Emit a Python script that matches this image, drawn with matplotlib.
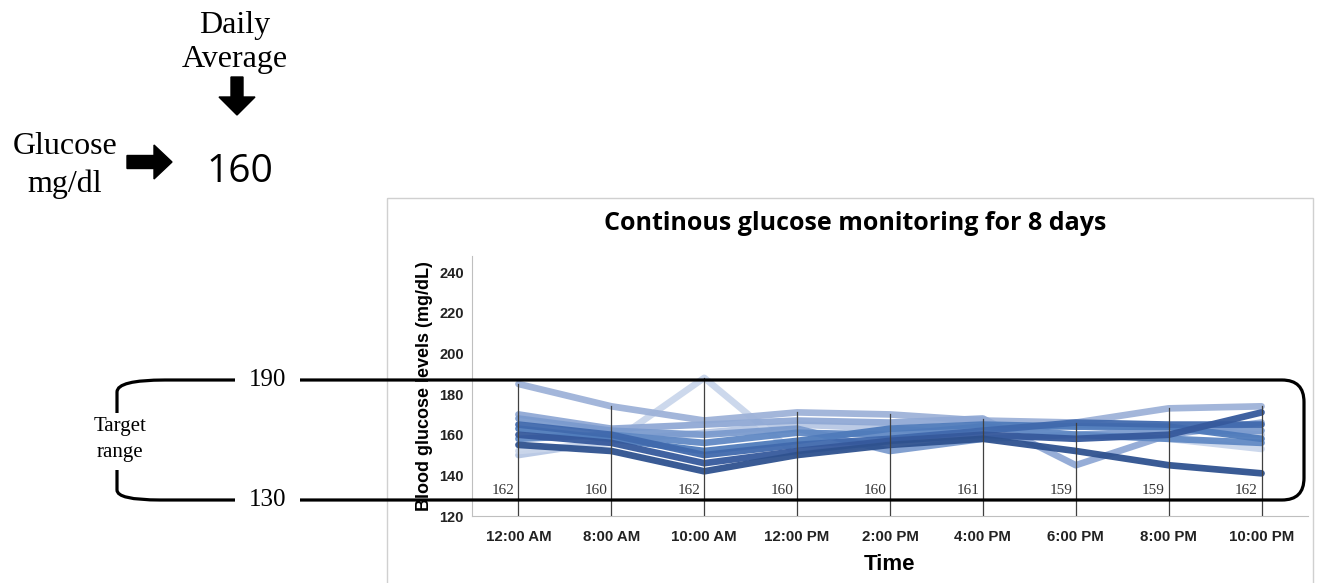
import matplotlib
matplotlib.use("Agg")
import matplotlib.pyplot as plt
from matplotlib.path import Path
from matplotlib.patches import PathPatch, FancyArrow, Rectangle

# categories and values (mg/dL)
times = ["12:00 AM", "8:00 AM", "10:00 AM", "12:00 PM", "2:00 PM",
         "4:00 PM", "6:00 PM", "8:00 PM", "10:00 PM"]
day1 = [155, 152, 142, 150, 155, 158, 152, 145, 141]
day2 = [160, 156, 146, 152, 157, 160, 158, 160, 171]
day3 = [165, 160, 150, 155, 158, 162, 166, 165, 165]
day4 = [163, 158, 152, 157, 163, 165, 164, 164, 158]
day5 = [158, 160, 156, 161, 160, 164, 160, 158, 156]
day6 = [168, 162, 160, 163, 152, 158, 160, 162, 162]
day7 = [170, 163, 165, 167, 166, 168, 145, 160, 166]
day8 = [185, 174, 167, 171, 170, 167, 166, 173, 174]
day9 = [150, 157, 161, 165, 163, 160, 165, 163, 160]
day10 = [152, 156, 188, 150, 157, 160, 160, 158, 153]
days = [day1, day2, day3, day4, day5, day6, day7, day8, day9, day10]
colors = ["#2F528F", "#36599C", "#4069AD", "#4F7BBB", "#6189C4",
          "#7B9BCE", "#90A9D5", "#9EB2D8", "#B8C8E4", "#CAD6EB"]
averages = ["162", "160", "162", "160", "160", "161", "159", "159", "162"]
yticks = [120, 140, 160, 180, 200, 220, 240]

W, H = 1323, 583
fig = plt.figure(figsize=(W / 100, H / 100), dpi=100)

# main chart axes
ax = fig.add_axes([472 / W, 67 / H, 836 / W, 260 / H])
x = list(range(len(times)))
order = [8, 9, 7, 6, 5, 4, 3, 2, 1, 0]
for k in order:
    ax.plot(x, days[k], color=colors[k], lw=4.8, solid_capstyle="round",
            solid_joinstyle="round", alpha=0.95, zorder=2)

# drop lines from the highest point of each time down to the axis
for i in x:
    top = max(d[i] for d in days)
    ax.plot([i, i], [120, top], color="#404040", lw=0.9, zorder=3)
    ax.text(i - 0.04, 132.5, averages[i], ha="right", va="center",
            family="Liberation Serif", fontsize=11, color="#333333")

ax.set_xlim(-0.5, len(times) - 0.5)
ax.set_ylim(120, 248)
ax.set_xticks(x)
ax.set_xticklabels(times, fontsize=10.8, fontweight="bold",
                   family="Liberation Sans")
ax.set_yticks(yticks)
ax.set_yticklabels([str(v) for v in yticks], fontsize=10.5, fontweight="bold",
                   family="Liberation Sans")
ax.tick_params(length=0, pad=10, colors="#222222")
ax.tick_params(axis="y", pad=6)
for s in ["top", "right"]:
    ax.spines[s].set_visible(False)
for s in ["left", "bottom"]:
    ax.spines[s].set_color("#BFBFBF")
ax.set_ylabel("Blood glucose levels (mg/dL)", fontsize=13, fontweight="bold",
              family="Liberation Sans", labelpad=4)
ax.set_xlabel("Time", fontsize=16, fontweight="bold",
              family="Liberation Sans", labelpad=7)

# overlay in pixel coordinates for the annotations
ov = fig.add_axes([0, 0, 1, 1])
ov.set_xlim(0, W)
ov.set_ylim(H, 0)
ov.axis("off")
ov.patch.set_alpha(0)

ov.add_patch(Rectangle((387, 198), 926, 400, fill=False,
                       edgecolor="#D0D0D0", lw=1))
ov.text(855, 224, "Continous glucose monitoring for 8 days", ha="center",
        va="center", fontsize=18, fontweight="bold", family="Open Sans")

serif = "Liberation Serif"
ov.text(235, 25, "Daily", ha="center", va="center", fontsize=23, family=serif)
ov.text(235, 60, "Average", ha="center", va="center", fontsize=23, family=serif)
ov.text(65, 147, "Glucose", ha="center", va="center", fontsize=23, family=serif)
ov.text(65, 184, "mg/dl", ha="center", va="center", fontsize=23, family=serif)
ov.text(240, 172, "160", ha="center", va="center", fontsize=28,
        family="Open Sans")
ov.add_patch(FancyArrow(237, 77, 0, 38, width=12, head_width=36,
                        head_length=18, length_includes_head=True,
                        color="black"))
ov.add_patch(FancyArrow(127, 162, 45, 0, width=13, head_width=34,
                        head_length=18, length_includes_head=True,
                        color="black"))

# target range markers
lw = 2.3
ov.text(268, 380, "190", ha="center", va="center", fontsize=18, family=serif)
ov.text(268, 500, "130", ha="center", va="center", fontsize=18, family=serif)
ov.text(120, 427, "Target", ha="center", va="center", fontsize=15, family=serif)
ov.text(120, 453, "range", ha="center", va="center", fontsize=15, family=serif)

upper_left = Path([(235, 380), (165, 380), (117, 380), (117, 392),
                   (117, 413)],
                  [Path.MOVETO, Path.LINETO, Path.CURVE3, Path.CURVE3,
                   Path.LINETO])
lower_left = Path([(117, 470), (117, 490), (117, 500), (160, 500),
                   (235, 500)],
                  [Path.MOVETO, Path.LINETO, Path.CURVE3, Path.CURVE3,
                   Path.LINETO])
right = Path([(300, 380), (1282, 380), (1304, 380), (1304, 402),
              (1304, 478), (1304, 500), (1282, 500), (300, 500)],
             [Path.MOVETO, Path.LINETO, Path.CURVE3, Path.CURVE3,
              Path.LINETO, Path.CURVE3, Path.CURVE3, Path.LINETO])
for p in (upper_left, lower_left, right):
    ov.add_patch(PathPatch(p, fill=False, edgecolor="black", lw=lw,
                           capstyle="butt"))

fig.savefig("out.png", dpi=100)
